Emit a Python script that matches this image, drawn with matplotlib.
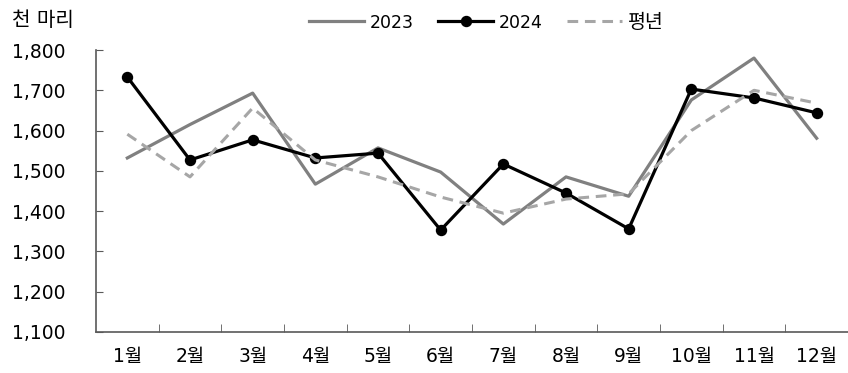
import matplotlib
matplotlib.use("Agg")
import matplotlib.pyplot as plt
from matplotlib.ticker import FuncFormatter

plt.rcParams['font.family'] = ['DejaVu Sans', 'Noto Sans CJK KR']

months = ["1월", "2월", "3월", "4월", "5월", "6월", "7월", "8월", "9월", "10월", "11월", "12월"]
y2023 = [1532, 1615, 1693, 1467, 1557, 1497, 1368, 1485, 1437, 1676, 1780, 1581]
y2024 = [1733, 1527, 1577, 1532, 1544, 1353, 1517, 1445, 1356, 1703, 1681, 1644]
normal = [1591, 1485, 1656, 1527, 1485, 1435, 1395, 1430, 1443, 1600, 1700, 1668]
yticks = [1100, 1200, 1300, 1400, 1500, 1600, 1700, 1800]

W, H = 848, 373
fig = plt.figure(figsize=(W / 100, H / 100), dpi=100)
ax = fig.add_axes([96 / W, (H - 332) / H, (848 - 96) / W, 282 / H])

x = list(range(len(months)))
l1, = ax.plot(x, y2023, color="#808080", lw=2.3, label="2023")
l2, = ax.plot(x, y2024, color="black", lw=2.3, marker="o", ms=7.2, label="2024")
l3, = ax.plot(x, normal, color="#a6a6a6", lw=2.2, ls=(0, (3.5, 2.2)), label="평년")

ax.set_xlim(-0.5, len(months) - 0.5)
ax.set_ylim(1100, 1800)
ax.set_yticks(yticks)
ax.yaxis.set_major_formatter(FuncFormatter(lambda v, p: f"{int(v):,}"))
ax.set_xticks(x)
ax.set_xticklabels(months)
ax.set_xticks([i + 0.5 for i in range(len(months) - 1)], minor=True)

for s in ["top", "right"]:
    ax.spines[s].set_visible(False)
for s in ["left", "bottom"]:
    ax.spines[s].set_color("#595959")
    ax.spines[s].set_linewidth(1.2)

ax.tick_params(axis="y", direction="in", length=5, color="#595959", labelsize=13.5, pad=22)
ax.tick_params(axis="x", which="major", length=0, labelsize=13.5, pad=11)
ax.tick_params(axis="x", which="minor", direction="in", length=6, color="#595959")

fig.text(12 / W, 1 - 21 / H, "천 마리", fontsize=14.5, va="center", ha="left")

leg = fig.legend(handles=[l1, l2, l3], loc="center", bbox_to_anchor=(486 / W, 1 - 22 / H),
                 ncol=3, frameon=False, fontsize=12.5, handlelength=3.2, handletextpad=0.3,
                 columnspacing=1.4)
leg.get_texts()[2].set_fontsize(14)

fig.savefig("out.png", dpi=100)
